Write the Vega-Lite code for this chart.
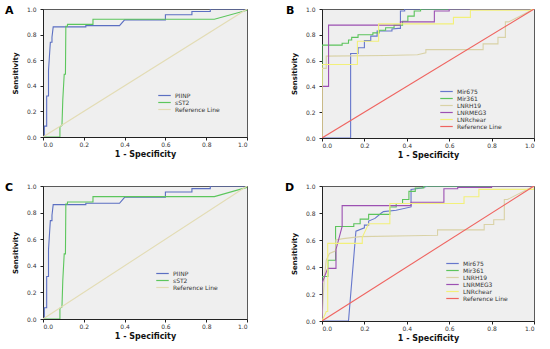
{
  "$schema": "https://vega.github.io/schema/vega-lite/v6.json",
  "background": "white",
  "padding": {"left": 4, "top": 4, "right": 5, "bottom": 2},
  "columns": 2,
  "bounds": "flush",
  "align": "each",
  "spacing": {"row": 48, "column": 75},
  "datasets": {
    "rocA": [
      {"series": "PIINP", "i": 1, "fpr": 0, "tpr": 0},
      {"series": "PIINP", "i": 2, "fpr": 0.0065, "tpr": 0},
      {"series": "PIINP", "i": 3, "fpr": 0.0065, "tpr": 0.085},
      {"series": "PIINP", "i": 4, "fpr": 0.018, "tpr": 0.085},
      {"series": "PIINP", "i": 5, "fpr": 0.018, "tpr": 0.32},
      {"series": "PIINP", "i": 6, "fpr": 0.027, "tpr": 0.32},
      {"series": "PIINP", "i": 7, "fpr": 0.027, "tpr": 0.52},
      {"series": "PIINP", "i": 8, "fpr": 0.036, "tpr": 0.74},
      {"series": "PIINP", "i": 9, "fpr": 0.044, "tpr": 0.74},
      {"series": "PIINP", "i": 10, "fpr": 0.044, "tpr": 0.78},
      {"series": "PIINP", "i": 11, "fpr": 0.05, "tpr": 0.86},
      {"series": "PIINP", "i": 12, "fpr": 0.21, "tpr": 0.86},
      {"series": "PIINP", "i": 13, "fpr": 0.21, "tpr": 0.87},
      {"series": "PIINP", "i": 14, "fpr": 0.375, "tpr": 0.87},
      {"series": "PIINP", "i": 15, "fpr": 0.4, "tpr": 0.915},
      {"series": "PIINP", "i": 16, "fpr": 0.6, "tpr": 0.915},
      {"series": "PIINP", "i": 17, "fpr": 0.6, "tpr": 0.955},
      {"series": "PIINP", "i": 18, "fpr": 0.73, "tpr": 0.955},
      {"series": "PIINP", "i": 19, "fpr": 0.73, "tpr": 0.98},
      {"series": "PIINP", "i": 20, "fpr": 0.82, "tpr": 0.98},
      {"series": "PIINP", "i": 21, "fpr": 0.82, "tpr": 1},
      {"series": "PIINP", "i": 22, "fpr": 1, "tpr": 1},
      {"series": "sST2", "i": 1, "fpr": 0, "tpr": 0},
      {"series": "sST2", "i": 2, "fpr": 0.083, "tpr": 0},
      {"series": "sST2", "i": 3, "fpr": 0.083, "tpr": 0.08},
      {"series": "sST2", "i": 4, "fpr": 0.093, "tpr": 0.09},
      {"series": "sST2", "i": 5, "fpr": 0.097, "tpr": 0.29},
      {"series": "sST2", "i": 6, "fpr": 0.104, "tpr": 0.49},
      {"series": "sST2", "i": 7, "fpr": 0.11, "tpr": 0.49},
      {"series": "sST2", "i": 8, "fpr": 0.112, "tpr": 0.865},
      {"series": "sST2", "i": 9, "fpr": 0.12, "tpr": 0.865},
      {"series": "sST2", "i": 10, "fpr": 0.12, "tpr": 0.88},
      {"series": "sST2", "i": 11, "fpr": 0.245, "tpr": 0.88},
      {"series": "sST2", "i": 12, "fpr": 0.245, "tpr": 0.92},
      {"series": "sST2", "i": 13, "fpr": 0.84, "tpr": 0.92},
      {"series": "sST2", "i": 14, "fpr": 1, "tpr": 0.99},
      {"series": "sST2", "i": 15, "fpr": 1, "tpr": 1},
      {"series": "Reference Line", "i": 1, "fpr": 0, "tpr": 0},
      {"series": "Reference Line", "i": 2, "fpr": 1, "tpr": 1}
    ],
    "rocB": [
      {"series": "Mir675", "i": 1, "fpr": 0, "tpr": 0},
      {"series": "Mir675", "i": 2, "fpr": 0.135, "tpr": 0},
      {"series": "Mir675", "i": 3, "fpr": 0.135, "tpr": 0.655},
      {"series": "Mir675", "i": 4, "fpr": 0.17, "tpr": 0.655},
      {"series": "Mir675", "i": 5, "fpr": 0.17, "tpr": 0.7},
      {"series": "Mir675", "i": 6, "fpr": 0.2, "tpr": 0.7},
      {"series": "Mir675", "i": 7, "fpr": 0.2, "tpr": 0.755},
      {"series": "Mir675", "i": 8, "fpr": 0.23, "tpr": 0.755},
      {"series": "Mir675", "i": 9, "fpr": 0.23, "tpr": 0.79},
      {"series": "Mir675", "i": 10, "fpr": 0.26, "tpr": 0.79},
      {"series": "Mir675", "i": 11, "fpr": 0.26, "tpr": 0.83},
      {"series": "Mir675", "i": 12, "fpr": 0.33, "tpr": 0.83},
      {"series": "Mir675", "i": 13, "fpr": 0.33, "tpr": 0.845},
      {"series": "Mir675", "i": 14, "fpr": 0.36, "tpr": 0.85},
      {"series": "Mir675", "i": 15, "fpr": 0.37, "tpr": 0.85},
      {"series": "Mir675", "i": 16, "fpr": 0.37, "tpr": 0.985},
      {"series": "Mir675", "i": 17, "fpr": 0.39, "tpr": 0.985},
      {"series": "Mir675", "i": 18, "fpr": 0.39, "tpr": 1},
      {"series": "Mir675", "i": 19, "fpr": 1, "tpr": 1},
      {"series": "Mir361", "i": 1, "fpr": 0, "tpr": 0},
      {"series": "Mir361", "i": 2, "fpr": 0, "tpr": 0.72},
      {"series": "Mir361", "i": 3, "fpr": 0.095, "tpr": 0.72},
      {"series": "Mir361", "i": 4, "fpr": 0.095, "tpr": 0.735},
      {"series": "Mir361", "i": 5, "fpr": 0.125, "tpr": 0.735},
      {"series": "Mir361", "i": 6, "fpr": 0.125, "tpr": 0.76},
      {"series": "Mir361", "i": 7, "fpr": 0.14, "tpr": 0.76},
      {"series": "Mir361", "i": 8, "fpr": 0.14, "tpr": 0.78},
      {"series": "Mir361", "i": 9, "fpr": 0.17, "tpr": 0.78},
      {"series": "Mir361", "i": 10, "fpr": 0.17, "tpr": 0.8},
      {"series": "Mir361", "i": 11, "fpr": 0.24, "tpr": 0.8},
      {"series": "Mir361", "i": 12, "fpr": 0.24, "tpr": 0.815},
      {"series": "Mir361", "i": 13, "fpr": 0.27, "tpr": 0.815},
      {"series": "Mir361", "i": 14, "fpr": 0.27, "tpr": 0.835},
      {"series": "Mir361", "i": 15, "fpr": 0.3, "tpr": 0.835},
      {"series": "Mir361", "i": 16, "fpr": 0.3, "tpr": 0.855},
      {"series": "Mir361", "i": 17, "fpr": 0.34, "tpr": 0.855},
      {"series": "Mir361", "i": 18, "fpr": 0.34, "tpr": 0.875},
      {"series": "Mir361", "i": 19, "fpr": 0.38, "tpr": 0.875},
      {"series": "Mir361", "i": 20, "fpr": 0.38, "tpr": 0.905},
      {"series": "Mir361", "i": 21, "fpr": 0.405, "tpr": 0.905},
      {"series": "Mir361", "i": 22, "fpr": 0.405, "tpr": 0.945},
      {"series": "Mir361", "i": 23, "fpr": 0.435, "tpr": 0.945},
      {"series": "Mir361", "i": 24, "fpr": 0.435, "tpr": 0.985},
      {"series": "Mir361", "i": 25, "fpr": 0.465, "tpr": 0.985},
      {"series": "Mir361", "i": 26, "fpr": 0.465, "tpr": 1},
      {"series": "Mir361", "i": 27, "fpr": 1, "tpr": 1},
      {"series": "LNRH19", "i": 1, "fpr": 0, "tpr": 0},
      {"series": "LNRH19", "i": 2, "fpr": 0, "tpr": 0.54},
      {"series": "LNRH19", "i": 3, "fpr": 0.02, "tpr": 0.54},
      {"series": "LNRH19", "i": 4, "fpr": 0.02, "tpr": 0.635},
      {"series": "LNRH19", "i": 5, "fpr": 0.3, "tpr": 0.64},
      {"series": "LNRH19", "i": 6, "fpr": 0.45, "tpr": 0.645},
      {"series": "LNRH19", "i": 7, "fpr": 0.49, "tpr": 0.66},
      {"series": "LNRH19", "i": 8, "fpr": 0.49, "tpr": 0.685},
      {"series": "LNRH19", "i": 9, "fpr": 0.76, "tpr": 0.685},
      {"series": "LNRH19", "i": 10, "fpr": 0.76, "tpr": 0.73},
      {"series": "LNRH19", "i": 11, "fpr": 0.83, "tpr": 0.73},
      {"series": "LNRH19", "i": 12, "fpr": 0.83, "tpr": 0.78},
      {"series": "LNRH19", "i": 13, "fpr": 0.865, "tpr": 0.78},
      {"series": "LNRH19", "i": 14, "fpr": 0.865, "tpr": 0.9},
      {"series": "LNRH19", "i": 15, "fpr": 0.88, "tpr": 0.9},
      {"series": "LNRH19", "i": 16, "fpr": 1, "tpr": 1},
      {"series": "LNRMEG3", "i": 1, "fpr": 0, "tpr": 0},
      {"series": "LNRMEG3", "i": 2, "fpr": 0, "tpr": 0.4},
      {"series": "LNRMEG3", "i": 3, "fpr": 0.031, "tpr": 0.4},
      {"series": "LNRMEG3", "i": 4, "fpr": 0.031, "tpr": 0.875},
      {"series": "LNRMEG3", "i": 5, "fpr": 0.37, "tpr": 0.875},
      {"series": "LNRMEG3", "i": 6, "fpr": 0.37, "tpr": 0.9},
      {"series": "LNRMEG3", "i": 7, "fpr": 0.53, "tpr": 0.9},
      {"series": "LNRMEG3", "i": 8, "fpr": 0.53, "tpr": 0.985},
      {"series": "LNRMEG3", "i": 9, "fpr": 0.6, "tpr": 0.985},
      {"series": "LNRMEG3", "i": 10, "fpr": 0.6, "tpr": 1},
      {"series": "LNRMEG3", "i": 11, "fpr": 1, "tpr": 1},
      {"series": "LNRchear", "i": 1, "fpr": 0, "tpr": 0},
      {"series": "LNRchear", "i": 2, "fpr": 0, "tpr": 0.57},
      {"series": "LNRchear", "i": 3, "fpr": 0.167, "tpr": 0.57},
      {"series": "LNRchear", "i": 4, "fpr": 0.167, "tpr": 0.75},
      {"series": "LNRchear", "i": 5, "fpr": 0.267, "tpr": 0.75},
      {"series": "LNRchear", "i": 6, "fpr": 0.267, "tpr": 0.885},
      {"series": "LNRchear", "i": 7, "fpr": 0.62, "tpr": 0.885},
      {"series": "LNRchear", "i": 8, "fpr": 0.62, "tpr": 0.935},
      {"series": "LNRchear", "i": 9, "fpr": 0.7, "tpr": 0.935},
      {"series": "LNRchear", "i": 10, "fpr": 0.7, "tpr": 0.99},
      {"series": "LNRchear", "i": 11, "fpr": 0.98, "tpr": 0.99},
      {"series": "LNRchear", "i": 12, "fpr": 1, "tpr": 1},
      {"series": "Reference Line", "i": 1, "fpr": 0, "tpr": 0},
      {"series": "Reference Line", "i": 2, "fpr": 1, "tpr": 1}
    ],
    "rocD": [
      {"series": "Mir675", "i": 1, "fpr": 0, "tpr": 0},
      {"series": "Mir675", "i": 2, "fpr": 0.125, "tpr": 0},
      {"series": "Mir675", "i": 3, "fpr": 0.16, "tpr": 0.665},
      {"series": "Mir675", "i": 4, "fpr": 0.2, "tpr": 0.69},
      {"series": "Mir675", "i": 5, "fpr": 0.2, "tpr": 0.71},
      {"series": "Mir675", "i": 6, "fpr": 0.22, "tpr": 0.71},
      {"series": "Mir675", "i": 7, "fpr": 0.22, "tpr": 0.74},
      {"series": "Mir675", "i": 8, "fpr": 0.25, "tpr": 0.76},
      {"series": "Mir675", "i": 9, "fpr": 0.28, "tpr": 0.8},
      {"series": "Mir675", "i": 10, "fpr": 0.29, "tpr": 0.81},
      {"series": "Mir675", "i": 11, "fpr": 0.35, "tpr": 0.82},
      {"series": "Mir675", "i": 12, "fpr": 0.42, "tpr": 0.845},
      {"series": "Mir675", "i": 13, "fpr": 0.42, "tpr": 0.975},
      {"series": "Mir675", "i": 14, "fpr": 0.47, "tpr": 0.985},
      {"series": "Mir675", "i": 15, "fpr": 0.5, "tpr": 1},
      {"series": "Mir675", "i": 16, "fpr": 1, "tpr": 1},
      {"series": "Mir361", "i": 1, "fpr": 0, "tpr": 0},
      {"series": "Mir361", "i": 2, "fpr": 0, "tpr": 0.33},
      {"series": "Mir361", "i": 3, "fpr": 0.028, "tpr": 0.33},
      {"series": "Mir361", "i": 4, "fpr": 0.028, "tpr": 0.45},
      {"series": "Mir361", "i": 5, "fpr": 0.064, "tpr": 0.45},
      {"series": "Mir361", "i": 6, "fpr": 0.064, "tpr": 0.7},
      {"series": "Mir361", "i": 7, "fpr": 0.15, "tpr": 0.7},
      {"series": "Mir361", "i": 8, "fpr": 0.15, "tpr": 0.72},
      {"series": "Mir361", "i": 9, "fpr": 0.18, "tpr": 0.72},
      {"series": "Mir361", "i": 10, "fpr": 0.18, "tpr": 0.755},
      {"series": "Mir361", "i": 11, "fpr": 0.22, "tpr": 0.755},
      {"series": "Mir361", "i": 12, "fpr": 0.22, "tpr": 0.79},
      {"series": "Mir361", "i": 13, "fpr": 0.32, "tpr": 0.79},
      {"series": "Mir361", "i": 14, "fpr": 0.32, "tpr": 0.845},
      {"series": "Mir361", "i": 15, "fpr": 0.35, "tpr": 0.845},
      {"series": "Mir361", "i": 16, "fpr": 0.35, "tpr": 0.87},
      {"series": "Mir361", "i": 17, "fpr": 0.38, "tpr": 0.87},
      {"series": "Mir361", "i": 18, "fpr": 0.38, "tpr": 0.9},
      {"series": "Mir361", "i": 19, "fpr": 0.41, "tpr": 0.9},
      {"series": "Mir361", "i": 20, "fpr": 0.41, "tpr": 0.96},
      {"series": "Mir361", "i": 21, "fpr": 0.44, "tpr": 0.96},
      {"series": "Mir361", "i": 22, "fpr": 0.44, "tpr": 0.985},
      {"series": "Mir361", "i": 23, "fpr": 0.48, "tpr": 0.985},
      {"series": "Mir361", "i": 24, "fpr": 0.48, "tpr": 1},
      {"series": "Mir361", "i": 25, "fpr": 1, "tpr": 1},
      {"series": "LNRH19", "i": 1, "fpr": 0, "tpr": 0},
      {"series": "LNRH19", "i": 2, "fpr": 0.01, "tpr": 0.3},
      {"series": "LNRH19", "i": 3, "fpr": 0.02, "tpr": 0.45},
      {"series": "LNRH19", "i": 4, "fpr": 0.035, "tpr": 0.5},
      {"series": "LNRH19", "i": 5, "fpr": 0.065, "tpr": 0.52},
      {"series": "LNRH19", "i": 6, "fpr": 0.065, "tpr": 0.6},
      {"series": "LNRH19", "i": 7, "fpr": 0.1, "tpr": 0.61},
      {"series": "LNRH19", "i": 8, "fpr": 0.18, "tpr": 0.625},
      {"series": "LNRH19", "i": 9, "fpr": 0.42, "tpr": 0.632},
      {"series": "LNRH19", "i": 10, "fpr": 0.545, "tpr": 0.635},
      {"series": "LNRH19", "i": 11, "fpr": 0.545, "tpr": 0.675},
      {"series": "LNRH19", "i": 12, "fpr": 0.765, "tpr": 0.675},
      {"series": "LNRH19", "i": 13, "fpr": 0.765, "tpr": 0.715},
      {"series": "LNRH19", "i": 14, "fpr": 0.81, "tpr": 0.715},
      {"series": "LNRH19", "i": 15, "fpr": 0.81, "tpr": 0.75},
      {"series": "LNRH19", "i": 16, "fpr": 0.86, "tpr": 0.75},
      {"series": "LNRH19", "i": 17, "fpr": 0.86, "tpr": 0.9},
      {"series": "LNRH19", "i": 18, "fpr": 0.875, "tpr": 0.9},
      {"series": "LNRH19", "i": 19, "fpr": 1, "tpr": 1},
      {"series": "LNRMEG3", "i": 1, "fpr": 0, "tpr": 0},
      {"series": "LNRMEG3", "i": 2, "fpr": 0, "tpr": 0.28},
      {"series": "LNRMEG3", "i": 3, "fpr": 0.027, "tpr": 0.39},
      {"series": "LNRMEG3", "i": 4, "fpr": 0.066, "tpr": 0.39},
      {"series": "LNRMEG3", "i": 5, "fpr": 0.066, "tpr": 0.53},
      {"series": "LNRMEG3", "i": 6, "fpr": 0.095, "tpr": 0.7},
      {"series": "LNRMEG3", "i": 7, "fpr": 0.095, "tpr": 0.855},
      {"series": "LNRMEG3", "i": 8, "fpr": 0.42, "tpr": 0.855},
      {"series": "LNRMEG3", "i": 9, "fpr": 0.42, "tpr": 0.88},
      {"series": "LNRMEG3", "i": 10, "fpr": 0.575, "tpr": 0.88},
      {"series": "LNRMEG3", "i": 11, "fpr": 0.575, "tpr": 0.98},
      {"series": "LNRMEG3", "i": 12, "fpr": 0.64, "tpr": 0.98},
      {"series": "LNRMEG3", "i": 13, "fpr": 0.64, "tpr": 0.99},
      {"series": "LNRMEG3", "i": 14, "fpr": 0.8, "tpr": 0.99},
      {"series": "LNRMEG3", "i": 15, "fpr": 0.8, "tpr": 1},
      {"series": "LNRMEG3", "i": 16, "fpr": 1, "tpr": 1},
      {"series": "LNRchear", "i": 1, "fpr": 0, "tpr": 0},
      {"series": "LNRchear", "i": 2, "fpr": 0.02, "tpr": 0.07},
      {"series": "LNRchear", "i": 3, "fpr": 0.027, "tpr": 0.07},
      {"series": "LNRchear", "i": 4, "fpr": 0.027, "tpr": 0.575},
      {"series": "LNRchear", "i": 5, "fpr": 0.19, "tpr": 0.575},
      {"series": "LNRchear", "i": 6, "fpr": 0.19, "tpr": 0.62},
      {"series": "LNRchear", "i": 7, "fpr": 0.22, "tpr": 0.72},
      {"series": "LNRchear", "i": 8, "fpr": 0.32, "tpr": 0.72},
      {"series": "LNRchear", "i": 9, "fpr": 0.32, "tpr": 0.87},
      {"series": "LNRchear", "i": 10, "fpr": 0.67, "tpr": 0.87},
      {"series": "LNRchear", "i": 11, "fpr": 0.67, "tpr": 0.92},
      {"series": "LNRchear", "i": 12, "fpr": 0.74, "tpr": 0.92},
      {"series": "LNRchear", "i": 13, "fpr": 0.74, "tpr": 0.975},
      {"series": "LNRchear", "i": 14, "fpr": 1, "tpr": 0.975},
      {"series": "LNRchear", "i": 15, "fpr": 1, "tpr": 1},
      {"series": "Reference Line", "i": 1, "fpr": 0, "tpr": 0},
      {"series": "Reference Line", "i": 2, "fpr": 1, "tpr": 1}
    ]
  },
  "concat": [
    {
      "width": 204, "height": 128,
      "title": {"text": "A", "dx": -38, "offset": -10},
      "data": {"name": "rocA"},
      "mark": {"type": "line", "strokeWidth": 1.1, "clip": true},
      "encoding": {
        "x": {"field": "fpr", "type": "quantitative", "scale": {"domain": [0, 1], "nice": false}, "title": "1 - Specificity"},
        "y": {"field": "tpr", "type": "quantitative", "scale": {"domain": [0, 1], "nice": false}, "title": "Sensitivity"},
        "order": {"field": "i"},
        "color": {"field": "series", "type": "nominal",
          "scale": {"domain": ["PIINP", "sST2", "Reference Line"], "range": ["#5b6fc2", "#5cc65c", "#e3dcb4"]},
          "legend": {"title": null, "legendX": 118, "legendY": 83}}
      }
    },
    {
      "width": 212, "height": 129,
      "title": {"text": "B", "dx": -36, "offset": -10},
      "data": {"name": "rocB"},
      "mark": {"type": "line", "strokeWidth": 1.1, "clip": true},
      "encoding": {
        "x": {"field": "fpr", "type": "quantitative", "scale": {"domain": [0, 1], "nice": false}, "title": "1 - Specificity"},
        "y": {"field": "tpr", "type": "quantitative", "scale": {"domain": [0, 1], "nice": false}, "title": "Sensitivity"},
        "order": {"field": "i"},
        "color": {"field": "series", "type": "nominal",
          "scale": {"domain": ["Mir675", "Mir361", "LNRH19", "LNRMEG3", "LNRchear", "Reference Line"], "range": ["#6677cc", "#5cc45c", "#d9d2a6", "#9c50b2", "#f2f07a", "#ef6460"]},
          "legend": {"title": null, "legendX": 121, "legendY": 79}}
      }
    },
    {
      "width": 204, "height": 133,
      "title": {"text": "C", "dx": -38, "offset": -10},
      "data": {"name": "rocA"},
      "mark": {"type": "line", "strokeWidth": 1.1, "clip": true},
      "encoding": {
        "x": {"field": "fpr", "type": "quantitative", "scale": {"domain": [0, 1], "nice": false}, "title": "1 - Specificity"},
        "y": {"field": "tpr", "type": "quantitative", "scale": {"domain": [0, 1], "nice": false}, "title": "Sensitivity"},
        "order": {"field": "i"},
        "color": {"field": "series", "type": "nominal",
          "scale": {"domain": ["PIINP", "sST2", "Reference Line"], "range": ["#5b6fc2", "#5cc65c", "#e3dcb4"]},
          "legend": {"title": null, "legendX": 116, "legendY": 84}}
      }
    },
    {
      "width": 212, "height": 135,
      "title": {"text": "D", "dx": -37, "offset": -10},
      "data": {"name": "rocD"},
      "mark": {"type": "line", "strokeWidth": 1.1, "clip": true},
      "encoding": {
        "x": {"field": "fpr", "type": "quantitative", "scale": {"domain": [0, 1], "nice": false}, "title": "1 - Specificity"},
        "y": {"field": "tpr", "type": "quantitative", "scale": {"domain": [0, 1], "nice": false}, "title": "Sensitivity"},
        "order": {"field": "i"},
        "color": {"field": "series", "type": "nominal",
          "scale": {"domain": ["Mir675", "Mir361", "LNRH19", "LNRMEG3", "LNRchear", "Reference Line"], "range": ["#6677cc", "#5cc45c", "#d9d2a6", "#9c50b2", "#f2f07a", "#ef6460"]},
          "legend": {"title": null, "legendX": 127, "legendY": 74}}
      }
    }
  ],
  "resolve": {
    "scale": {"color": "independent", "x": "independent", "y": "independent"},
    "legend": {"color": "independent"}
  },
  "config": {
    "font": "DejaVu Sans",
    "view": {"fill": "#efefef", "stroke": "#5a5a5a", "strokeWidth": 1},
    "title": {"anchor": "start", "frame": "group", "orient": "top", "fontSize": 11, "fontWeight": "bold", "font": "DejaVu Sans", "color": "#000"},
    "axis": {
      "grid": false, "zindex": 1,
      "values": [0, 0.2, 0.4, 0.6, 0.8, 1.0], "format": ".1f",
      "labelFont": "DejaVu Sans", "labelFontSize": 6, "labelColor": "#333",
      "titleFont": "DejaVu Sans", "titleFontWeight": "bold", "titleColor": "#111",
      "domainColor": "#222", "tickColor": "#222", "tickSize": 3
    },
    "axisX": {"titleFontSize": 8, "titlePadding": 3, "labelPadding": 1},
    "axisY": {"titleFontSize": 7, "titlePadding": 8, "labelPadding": 4},
    "legend": {
      "orient": "none", "padding": 0, "rowPadding": 0,
      "labelFont": "DejaVu Sans", "labelFontSize": 6, "labelColor": "#333",
      "symbolType": "M-2.5,0H2.5", "symbolSize": 25, "symbolStrokeWidth": 1.2, "labelOffset": 7
    }
  }
}
